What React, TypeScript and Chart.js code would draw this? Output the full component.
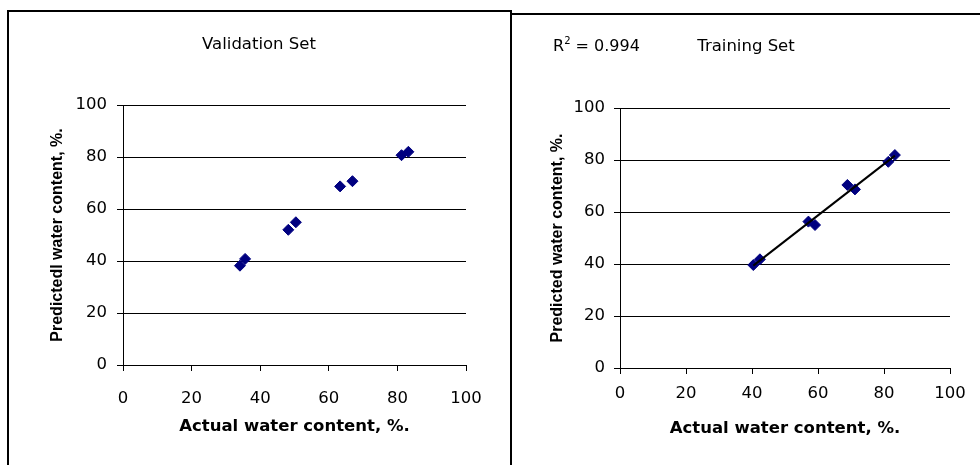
import React, { useEffect, useRef } from "react";
import { Chart, registerables } from "chart.js";

Chart.register(...registerables);

// ---- data ----
const axisMin = 0;
const axisMax = 100;
const axisStep = 20;

const validationTitle = "Validation Set";
const trainingTitle = "Training Set";
const xAxisTitle = "Actual water content, %.";
const yAxisTitleValidation = "Predictedl water content, %.";
const yAxisTitleTraining = "Predicted water content, %.";
const rSquaredText = "0.994";

const validationActual = [34.1, 35.6, 48.2, 50.4, 63.3, 66.9, 81.2, 83.2];
const validationPredicted = [38.2, 40.8, 52.0, 54.9, 68.7, 70.7, 80.7, 82.0];

const trainingActual = [40.4, 42.4, 57.1, 59.1, 68.9, 71.2, 81.3, 83.3];
const trainingPredicted = [39.6, 41.8, 56.3, 55.0, 70.4, 68.7, 79.3, 81.9];

// ---- helpers ----
const toPoints = (xs: number[], ys: number[]) => xs.map((x, i) => ({ x, y: ys[i] }));

function fitLine(xs: number[], ys: number[]) {
  const n = xs.length;
  const mx = xs.reduce((a, b) => a + b, 0) / n;
  const my = ys.reduce((a, b) => a + b, 0) / n;
  let sxy = 0;
  let sxx = 0;
  for (let i = 0; i < n; i++) {
    sxy += (xs[i] - mx) * (ys[i] - my);
    sxx += (xs[i] - mx) * (xs[i] - mx);
  }
  const slope = sxy / sxx;
  const intercept = my - slope * mx;
  const x0 = Math.min(...xs);
  const x1 = Math.max(...xs);
  return [
    { x: x0, y: intercept + slope * x0 },
    { x: x1, y: intercept + slope * x1 },
  ];
}

const TICK_FONT = { family: "'DejaVu Sans', sans-serif", size: 16.5, weight: "normal" as const };
const XTITLE_FONT = { family: "'DejaVu Sans', sans-serif", size: 16.5, weight: "bold" as const };
const YTITLE_FONT = { family: "'Liberation Sans', Arial, sans-serif", size: 16, weight: "bold" as const };
const MARKER = "#000080";

type Layout = {
  padLeft: number;
  padRight: number;
  yWidth: number;
  xHeight: number;
  yTickPad: number;
  xTickPad: number;
  yTitlePad: number;
  xTitlePad: number;
  titleTop: number;
  titleBottom: number;
};

function buildConfig(title: string, yTitle: string, datasets: any[], l: Layout): any {
  return {
    type: "scatter",
    data: { datasets },
    options: {
      animation: false,
      responsive: false,
      devicePixelRatio: 1,
      layout: { padding: { left: l.padLeft, right: l.padRight, top: 0, bottom: 0 } },
      plugins: {
        legend: { display: false },
        tooltip: { enabled: false },
        title: {
          display: true,
          text: title,
          color: "#000",
          font: { family: "'DejaVu Sans', sans-serif", size: 16.5, weight: "normal" },
          padding: { top: l.titleTop, bottom: l.titleBottom },
        },
      },
      scales: {
        x: {
          type: "linear",
          min: axisMin,
          max: axisMax,
          afterFit: (s: any) => {
            s.height = l.xHeight;
          },
          ticks: { stepSize: axisStep, color: "#000", font: TICK_FONT, padding: l.xTickPad, maxRotation: 0 },
          grid: { drawOnChartArea: false, drawTicks: true, tickLength: 6, color: "#000", lineWidth: 1 },
          border: { display: true, color: "#000", width: 1 },
          title: {
            display: true,
            text: xAxisTitle,
            color: "#000",
            font: XTITLE_FONT,
            padding: { top: 0, bottom: l.xTitlePad },
          },
        },
        y: {
          type: "linear",
          min: axisMin,
          max: axisMax,
          afterFit: (s: any) => {
            s.width = l.yWidth;
          },
          ticks: { stepSize: axisStep, color: "#000", font: TICK_FONT, padding: l.yTickPad },
          grid: { drawOnChartArea: true, drawTicks: true, tickLength: 6, color: "#000", lineWidth: 1 },
          border: { display: true, color: "#000", width: 1 },
          title: {
            display: true,
            text: yTitle,
            color: "#000",
            font: YTITLE_FONT,
            padding: { top: l.yTitlePad, bottom: 0 },
          },
        },
      },
    },
  };
}

function ChartCanvas(props: { config: any; left: number; top: number; width: number; height: number }) {
  const ref = useRef<HTMLCanvasElement | null>(null);
  useEffect(() => {
    if (!ref.current) return;
    const chart = new Chart(ref.current, props.config);
    return () => chart.destroy();
  }, []);
  return (
    <canvas
      ref={ref}
      width={props.width}
      height={props.height}
      style={{
        position: "absolute",
        left: props.left,
        top: props.top,
        width: props.width,
        height: props.height,
      }}
    />
  );
}

export default function App() {
  const markerStyle = {
    pointStyle: "rectRot",
    pointRadius: 5.5,
    pointHoverRadius: 5.5,
    backgroundColor: MARKER,
    borderColor: MARKER,
    borderWidth: 1,
    showLine: false,
  };

  const validationConfig = buildConfig(
    validationTitle,
    yAxisTitleValidation,
    [{ label: "Validation", data: toPoints(validationActual, validationPredicted), ...markerStyle }],
    {
      padLeft: 43,
      padRight: 43,
      yWidth: 71,
      xHeight: 100,
      yTickPad: 10,
      xTickPad: 18,
      yTitlePad: -3.6,
      xTitlePad: 28,
      titleTop: 23,
      titleBottom: 50.2,
    }
  );

  const trainingConfig = buildConfig(
    trainingTitle,
    yAxisTitleTraining,
    [
      {
        label: "Trend",
        data: fitLine(trainingActual, trainingPredicted),
        showLine: true,
        pointRadius: 0,
        borderColor: "#000",
        borderWidth: 2,
        backgroundColor: "#000",
      },
      { label: "Training", data: toPoints(trainingActual, trainingPredicted), ...markerStyle },
    ],
    {
      padLeft: 30,
      padRight: 30,
      yWidth: 78,
      xHeight: 97,
      yTickPad: 9,
      xTickPad: 10,
      yTitlePad: 6.4,
      xTitlePad: 26,
      titleTop: 21.8,
      titleBottom: 51.4,
    }
  );

  return (
    <div style={{ position: "absolute", left: 0, top: 0, width: 980, height: 465, overflow: "hidden", background: "#fff" }}>
      <div
        style={{
          position: "absolute",
          left: 7,
          top: 10,
          width: 505,
          height: 480,
          boxSizing: "border-box",
          borderTop: "2px solid #000",
          borderLeft: "2px solid #000",
          borderRight: "2px solid #000",
        }}
      />
      <div
        style={{
          position: "absolute",
          left: 510,
          top: 13,
          width: 480,
          height: 480,
          boxSizing: "border-box",
          borderTop: "2px solid #000",
          borderLeft: "2px solid #000",
        }}
      />
      <ChartCanvas config={validationConfig} left={9} top={12} width={500} height={453} />
      <ChartCanvas config={trainingConfig} left={512} top={15} width={468} height={450} />
      <div
        style={{
          position: "absolute",
          left: 553,
          top: 36,
          fontFamily: "'DejaVu Sans', sans-serif",
          fontSize: 16,
          lineHeight: "20px",
          color: "#000",
          whiteSpace: "nowrap",
        }}
      >
        R<span style={{ fontSize: 10, position: "relative", top: -7 }}>2</span> = {rSquaredText}
      </div>
    </div>
  );
}
